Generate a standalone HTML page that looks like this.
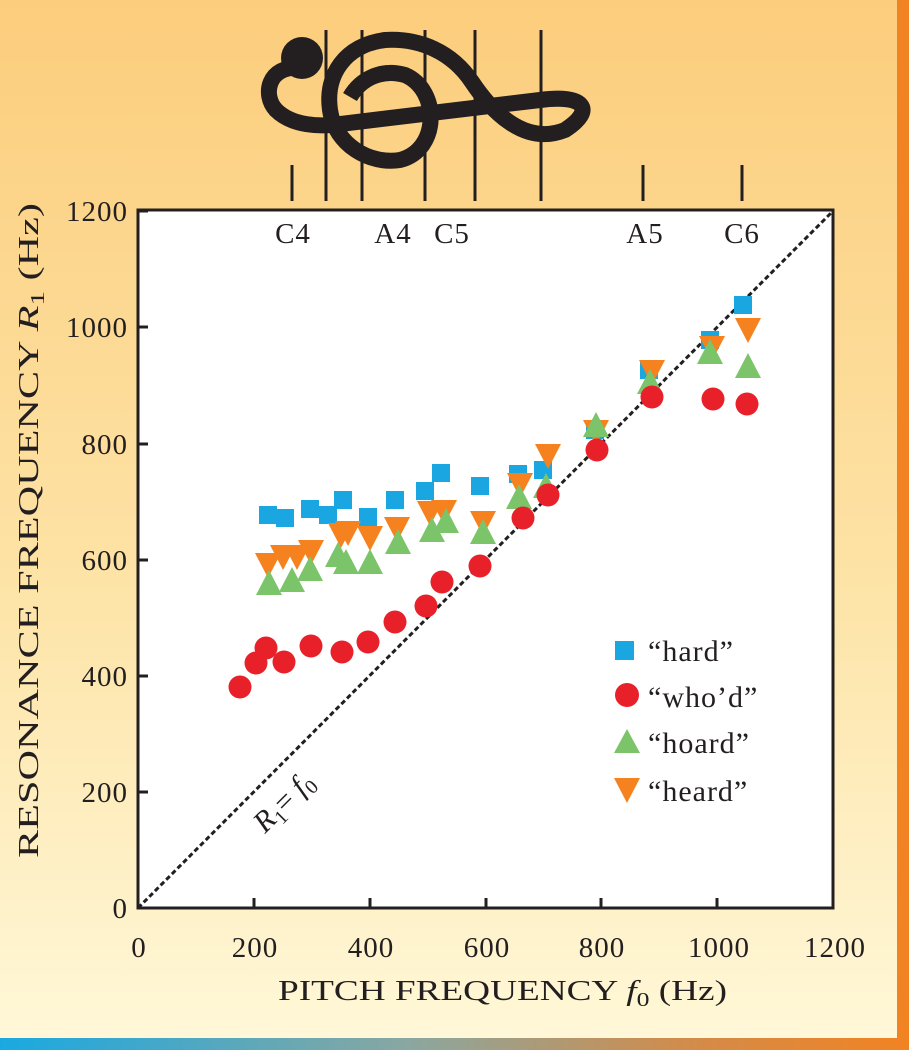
<!DOCTYPE html>
<html><head><style>
html,body{margin:0;padding:0}
body{width:909px;height:1050px;position:relative;overflow:hidden;background:linear-gradient(#fccd7c 0%,#fde3a6 55%,#fff8d9 100%);font-family:"Liberation Serif",serif;}
</style></head><body>
<div style="position:absolute;right:0;top:0;width:12px;height:1050px;background:#f28322"></div>
<div style="position:absolute;left:0;bottom:0;width:909px;height:12px;background:linear-gradient(90deg,#19a9e1 0%,#8aa7a0 45%,#d18c4c 75%,#f28322 100%)"></div>
<svg width="909" height="1050" style="position:absolute;left:0;top:0" font-family="Liberation Serif, serif">
<rect x="138" y="210" width="695" height="698" fill="#fff"/>
<!-- clef -->
<g fill="none" stroke="#231f20">
<path d="M326,30V201M362,30V201M425,30V201M475,30V201M541,30V201M292,165V201M643,165V201M742,165V201" stroke-width="3"/>
<path d="M300,68 C268,65 262,95 276,110 C292,126 320,127 340,124 L540,100 C585,94 596,110 565,130 C525,146 492,112 472,82 C452,52 420,38 385,40 C345,45 325,75 330,110 C335,145 370,165 400,160 C440,150 440,90 405,75 C380,68 360,80 350,97" stroke-width="16"/>
</g>
<circle cx="302" cy="58" r="21" fill="#231f20"/>
<rect x="138" y="210" width="695" height="698" fill="none" stroke="#231f20" stroke-width="3"/>
<line x1="138" y1="908" x2="833" y2="211" stroke="#231f20" stroke-width="3" stroke-dasharray="5,3"/>
<g stroke="#231f20" stroke-width="3">
<path d="M254,908v-10M370,908v-10M486,908v-10M601,908v-10M717,908v-10M833,908v-10"/>
<path d="M138,211h10M138,327h10M138,444h10M138,560h10M138,676h10M138,792h10"/>
</g>
<g font-size="29" fill="#231f20" text-anchor="middle" letter-spacing="1">
<text x="139" y="957">0</text><text x="255" y="957">200</text><text x="371" y="957">400</text><text x="487" y="957">600</text><text x="602" y="957">800</text><text x="719" y="957">1000</text><text x="835" y="957">1200</text>
<text x="293" y="243">C4</text><text x="393" y="243">A4</text><text x="452" y="243">C5</text><text x="645" y="243">A5</text><text x="742" y="243">C6</text>
</g>
<g font-size="29" fill="#231f20" text-anchor="end" letter-spacing="1">
<text x="128" y="221">1200</text><text x="128" y="337">1000</text><text x="128" y="454">800</text><text x="128" y="570">600</text><text x="128" y="686">400</text><text x="128" y="802">200</text><text x="128" y="918">0</text>
</g>
<text x="278" y="1000" font-size="29" textLength="449" lengthAdjust="spacingAndGlyphs" fill="#231f20">PITCH FREQUENCY <tspan font-style="italic">f</tspan><tspan font-size="20" dy="6">0</tspan><tspan dy="-6"> (Hz)</tspan></text>
<text transform="translate(38,858) rotate(-90)" font-size="29" textLength="655" lengthAdjust="spacingAndGlyphs" fill="#231f20">RESONANCE FREQUENCY <tspan font-style="italic">R</tspan><tspan font-size="20" dy="6">1</tspan><tspan dy="-6"> (Hz)</tspan></text>
<text transform="translate(265,834) rotate(-45)" font-size="30" fill="#231f20"><tspan font-style="italic">R</tspan><tspan font-size="20" dy="6">1</tspan><tspan dy="-6">= </tspan><tspan font-style="italic">f</tspan><tspan font-size="20" dy="6">0</tspan></text>
<g fill="#1aa6e0" id="sq"></g>
<g fill="#f5821e" id="dn"></g>
<g fill="#7cc46a" id="up"></g>
<g fill="#e8202a" id="ci"></g>
<g font-size="30" fill="#231f20" letter-spacing="1">
<rect x="615" y="641" width="19" height="19" fill="#1aa6e0"/><text x="648" y="661">“hard”</text>
<circle cx="627" cy="695" r="12" fill="#e8202a"/><text x="648" y="707">“who’d”</text>
<path d="M627,729 L640,753 L614,753Z" fill="#7cc46a"/><text x="648" y="753">“hoard”</text>
<path d="M614,778 L640,778 L627,803Z" fill="#f5821e"/><text x="648" y="801">“heard”</text>
</g>
</svg>
<script>
var ns="http://www.w3.org/2000/svg";
function add(id,tag,attrs){var e=document.createElementNS(ns,tag);for(var k in attrs)e.setAttribute(k,attrs[k]);document.getElementById(id).appendChild(e);}
var sq=[[268,515],[285,518],[310,509],[328,515],[343,500],[368,517],[395,500],[425,491],[441,473],[480,486],[518,474],[543,470],[595,430],[649,370],[710,340],[743,305]];
var ci=[[240,687],[256,663],[266,648],[284,662],[311,646],[342,652],[368,642],[395,622],[426,606],[442,582],[480,566],[523,518],[548,495],[597,450],[652,397],[713,399],[747,404]];
var up=[[269,583],[292,580],[310,569],[338,555],[346,562],[370,562],[398,542],[432,530],[446,521],[483,532],[519,497],[546,486],[596,425],[650,382],[710,352],[748,366]];
var dn=[[268,565],[283,557],[297,557],[311,552],[341,535],[348,533],[370,538],[397,529],[430,513],[444,512],[483,523],[520,485],[548,456],[596,432],[652,372],[712,348],[748,330]];
dn.forEach(function(p){add("dn","path",{d:"M"+(p[0]-13)+","+(p[1]-12)+" L"+(p[0]+13)+","+(p[1]-12)+" L"+p[0]+","+(p[1]+13)+"Z"});});
up.forEach(function(p){add("up","path",{d:"M"+p[0]+","+(p[1]-13)+" L"+(p[0]+13)+","+(p[1]+12)+" L"+(p[0]-13)+","+(p[1]+12)+"Z"});});
sq.forEach(function(p){add("sq","rect",{x:p[0]-9,y:p[1]-9,width:18,height:18});});
ci.forEach(function(p){add("ci","circle",{cx:p[0],cy:p[1],r:11.5});});
</script>
</body></html>
